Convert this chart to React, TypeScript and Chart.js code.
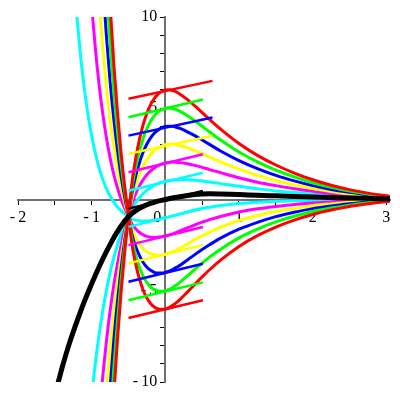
import React, { useEffect, useRef } from "react";
import { Chart, registerables } from "chart.js";

Chart.register(...registerables);

// shared x grid for all solution curves
const X = [
  -1.5, -1.45, -1.4, -1.35, -1.3, -1.25, -1.2, -1.15, -1.1, -1.05, -1.0, -0.95, -0.9, -0.85, -0.8, -0.75,
  -0.7, -0.65, -0.6, -0.55, -0.5, -0.45, -0.4, -0.35, -0.3, -0.25, -0.2, -0.15, -0.1, -0.05, 0,
  0.05, 0.1, 0.15, 0.2, 0.3, 0.4, 0.5, 0.6, 0.75, 1.0, 1.25, 1.5, 1.75, 2.0, 2.25, 2.5, 2.75, 3.05,
];

// thick black solution y(0)=0
const BLACK_Y = [
  -10.75, -9.95, -9.2, -8.5, -7.85, -7.25, -6.68, -6.13, -5.6, -5.1, -4.62, -4.15, -3.7, -3.27, -2.86, -2.47,
  -2.1, -1.76, -1.45, -1.17, -0.93, -0.76, -0.61, -0.48, -0.38, -0.29, -0.21, -0.15, -0.09, -0.045, 0,
  0.045, 0.085, 0.12, 0.15, 0.22, 0.27, 0.3, 0.31, 0.3, 0.27, 0.23, 0.2, 0.17, 0.14, 0.11, 0.08, 0.06, 0.04,
];

// positive initial values (start x, values)
const POS1_FROM = -1.05;
const POS1 = [-12.9, -10.78, -8.97, -7.42, -6.11, -4.98, -4.01, -3.18, -2.49, -1.88, -1.36, -0.91, -0.47, -0.15, 0.11, 0.33, 0.51, 0.66, 0.77, 0.87, 0.94, 1.0, 1.04, 1.07, 1.08, 1.09, 1.08, 1.05, 1.01, 0.96, 0.87, 0.72, 0.59, 0.47, 0.38, 0.29, 0.21, 0.16, 0.11, 0.06];
const POS2_FROM = -0.95;
const POS2 = [-14.72, -12.0, -9.72, -7.77, -6.11, -4.7, -3.53, -2.51, -1.65, -0.91, -0.18, 0.34, 0.76, 1.09, 1.36, 1.57, 1.73, 1.85, 1.94, 2.0, 2.03, 2.05, 2.04, 2.02, 1.96, 1.87, 1.76, 1.64, 1.47, 1.19, 0.95, 0.76, 0.59, 0.45, 0.33, 0.23, 0.16, 0.08];
const POS3_FROM = -0.9;
const POS3 = [-16.58, -13.33, -10.56, -8.21, -6.22, -4.57, -3.14, -1.94, -0.91, 0.12, 0.83, 1.4, 1.85, 2.2, 2.47, 2.68, 2.83, 2.93, 3.0, 3.03, 3.03, 3.0, 2.96, 2.84, 2.68, 2.51, 2.33, 2.06, 1.66, 1.32, 1.04, 0.81, 0.6, 0.44, 0.31, 0.2, 0.11];
const POS4_FROM = -0.85;
const POS4 = [-16.94, -13.35, -10.31, -7.74, -5.61, -3.77, -2.23, -0.91, 0.42, 1.32, 2.04, 2.6, 3.04, 3.38, 3.63, 3.81, 3.93, 4.0, 4.02, 4.01, 3.96, 3.9, 3.71, 3.5, 3.26, 3.02, 2.66, 2.13, 1.69, 1.32, 1.02, 0.76, 0.55, 0.39, 0.25, 0.13];
const POS5_FROM = -0.8;
const POS5 = [-16.14, -12.41, -9.26, -6.65, -4.4, -2.52, -0.91, 0.72, 1.81, 2.68, 3.36, 3.89, 4.29, 4.58, 4.79, 4.92, 5.0, 5.02, 4.99, 4.93, 4.83, 4.59, 4.31, 4.01, 3.7, 3.26, 2.6, 2.06, 1.61, 1.24, 0.92, 0.67, 0.47, 0.3, 0.15];
const POS6_FROM = -0.75;
const POS6 = [-14.51, -10.78, -7.69, -5.03, -2.81, -0.91, 1.01, 2.3, 3.32, 4.12, 4.73, 5.2, 5.53, 5.77, 5.92, 6.0, 6.01, 5.97, 5.89, 5.77, 5.47, 5.13, 4.76, 4.39, 3.86, 3.07, 2.42, 1.89, 1.45, 1.08, 0.78, 0.54, 0.35, 0.17];

// negative initial values
const NEG1_FROM = -1.25;
const NEG1 = [12.55, 9.99, 7.85, 6.09, 4.66, 3.48, 2.53, 1.74, 1.11, 0.6, 0.19, -0.14, -0.41, -0.62, -0.78, -0.91, -1.07, -1.13, -1.17, -1.18, -1.18, -1.16, -1.13, -1.09, -1.05, -1.0, -0.95, -0.9, -0.84, -0.79, -0.68, -0.57, -0.49, -0.42, -0.33, -0.22, -0.15, -0.1, -0.07, -0.05, -0.03, -0.02, -0.01, 0.0];
const NEG2_FROM = -1.05;
const NEG2 = [13.44, 10.61, 8.28, 6.32, 4.72, 3.39, 2.29, 1.38, 0.64, 0.01, -0.49, -0.91, -1.36, -1.62, -1.81, -1.94, -2.02, -2.07, -2.08, -2.07, -2.04, -2.0, -1.94, -1.88, -1.8, -1.72, -1.56, -1.39, -1.24, -1.1, -0.93, -0.69, -0.51, -0.38, -0.27, -0.19, -0.13, -0.07, -0.04, 0.0];
const NEG3_FROM = -1.0;
const NEG3 = [17.74, 14.03, 10.9, 8.33, 6.18, 4.39, 2.9, 1.68, 0.64, -0.2, -0.91, -1.66, -2.11, -2.45, -2.7, -2.87, -2.97, -3.03, -3.05, -3.04, -3.0, -2.94, -2.86, -2.76, -2.66, -2.44, -2.2, -1.99, -1.79, -1.52, -1.16, -0.88, -0.66, -0.49, -0.34, -0.24, -0.15, -0.08, -0.03];
const NEG4_FROM = -0.9;
const NEG4 = [15.48, 11.94, 8.97, 6.49, 4.42, 2.72, 1.27, 0.09, -0.91, -1.96, -2.6, -3.09, -3.45, -3.71, -3.88, -3.99, -4.03, -4.03, -4.0, -3.93, -3.84, -3.72, -3.6, -3.31, -3.02, -2.74, -2.48, -2.12, -1.63, -1.25, -0.94, -0.7, -0.5, -0.35, -0.23, -0.13, -0.05];
const NEG5_FROM = -0.85;
const NEG5 = [15.55, 11.76, 8.59, 5.94, 3.76, 1.9, 0.38, -0.91, -2.26, -3.09, -3.73, -4.21, -4.55, -4.79, -4.94, -5.01, -5.03, -5.0, -4.93, -4.82, -4.69, -4.53, -4.19, -3.83, -3.49, -3.16, -2.72, -2.1, -1.62, -1.23, -0.92, -0.66, -0.47, -0.31, -0.18, -0.07];
const NEG6_FROM = -0.8;
const NEG6 = [14.55, 10.69, 7.46, 4.8, 2.53, 0.67, -0.91, -2.55, -3.58, -4.37, -4.97, -5.4, -5.7, -5.89, -5.99, -6.02, -6.0, -5.92, -5.8, -5.65, -5.47, -5.07, -4.65, -4.24, -3.85, -3.32, -2.57, -1.98, -1.51, -1.13, -0.82, -0.58, -0.38, -0.23, -0.09];

// initial-slope segments
const SEG_X0 = [-0.5, -0.5, -0.5, -0.5, -0.5, -0.5, -0.5, -0.5, -0.5, -0.5, -0.5, -0.5, -0.5];
const SEG_Y0 = [5.52, 4.51, 3.5, 2.5, 1.49, 0.48, -0.5, -1.5, -2.5, -3.5, -4.51, -5.52, -6.49];
const SEG_X1 = [0.64, 0.51, 0.64, 0.64, 0.51, 0.51, 0.51, 0.51, 0.51, 0.51, 0.51, 0.51, 0.51];
const SEG_Y1 = [6.5, 5.48, 4.49, 3.49, 2.48, 1.47, 0.47, -0.5, -1.51, -2.5, -3.52, -4.54, -5.52];
const SEG_COLORS = ["#ff0000", "#00ff00", "#0000ff", "#ffff00", "#ff00ff", "#00ffff", "#000000", "#00ffff", "#ff00ff", "#ffff00", "#0000ff", "#00ff00", "#ff0000"];

const X_TICK_LABELS: Record<string, string> = { "-2": "-\u20092", "-1": "-\u20091", "0": "0\u2002\u2002", "1": "1", "2": "2", "3": "3" };
const Y_TICK_LABELS: Record<string, string> = { "10": "10\u2002", "5": "5\u2002", "-5": "-\u20095\u2002", "-10": "-\u200910\u2002" };

export default function App() {
  const ref = useRef<HTMLCanvasElement>(null);

  useEffect(() => {
    const pts = (from: number, ys: number[]) => {
      const s = X.indexOf(from);
      return ys.map((y, j) => ({ x: X[s + j], y }));
    };
    const curve = (data: any[], color: string, order: number, width = 3) => ({
      data,
      borderColor: color,
      backgroundColor: color,
      borderWidth: width,
      pointRadius: 0,
      fill: false,
      cubicInterpolationMode: "monotone" as const,
      clip: 0,
      order,
    });

    const datasets: any[] = [];
    const posSets: [number, number[], string][] = [
      [POS6_FROM, POS6, "#ff0000"],
      [POS5_FROM, POS5, "#00ff00"],
      [POS4_FROM, POS4, "#0000ff"],
      [POS3_FROM, POS3, "#ffff00"],
      [POS2_FROM, POS2, "#ff00ff"],
      [POS1_FROM, POS1, "#00ffff"],
    ];
    const negSets: [number, number[], string][] = [
      [NEG6_FROM, NEG6, "#ff0000"],
      [NEG5_FROM, NEG5, "#00ff00"],
      [NEG4_FROM, NEG4, "#0000ff"],
      [NEG3_FROM, NEG3, "#ffff00"],
      [NEG2_FROM, NEG2, "#ff00ff"],
      [NEG1_FROM, NEG1, "#00ffff"],
    ];
    posSets.forEach(([f, ys, c], i) => datasets.push(curve(pts(f, ys), c, 3 + i)));
    negSets.forEach(([f, ys, c], i) => datasets.push(curve(pts(f, ys), c, 3 + i)));
    SEG_X0.forEach((x0, i) => {
      datasets.push({
        data: [
          { x: x0, y: SEG_Y0[i] },
          { x: SEG_X1[i], y: SEG_Y1[i] },
        ],
        borderColor: SEG_COLORS[i],
        borderWidth: 2.5,
        pointRadius: 0,
        fill: false,
        clip: 0,
        order: SEG_COLORS[i] === "#000000" ? 1 : 2,
      });
    });
    datasets.push(curve(X.map((x, i) => ({ x, y: BLACK_Y[i] })), "#000000", 0, 5));

    Chart.defaults.font.family = '"Liberation Serif", "Times New Roman", serif';
    Chart.defaults.font.size = 16;
    Chart.defaults.color = "#000";

    const chart = new Chart(ref.current!, {
      type: "line",
      data: { datasets },
      options: {
        animation: false,
        responsive: false,
        layout: { padding: { left: 18, right: 10, top: 17, bottom: 18 } },
        plugins: { legend: { display: false }, tooltip: { enabled: false } },
        scales: {
          x: {
            type: "linear",
            min: -2,
            max: 3.05,
            position: { y: 0 } as any,
            ticks: {
              stepSize: 0.5,
              includeBounds: false,
              autoSkip: false,
              maxRotation: 0,
              padding: 5,
              callback: (v: any) => X_TICK_LABELS[String(v)] ?? "",
            },
            grid: { drawOnChartArea: false, tickLength: 4, color: "#000", lineWidth: 1 },
            border: { color: "#707070", width: 2 },
          },
          y: {
            type: "linear",
            min: -10,
            max: 10,
            position: { x: 0 } as any,
            ticks: {
              stepSize: 1,
              includeBounds: false,
              autoSkip: false,
              callback: (v: any) => Y_TICK_LABELS[String(v)] ?? "",
            },
            grid: { drawOnChartArea: false, tickLength: 4, color: "#000", lineWidth: 1 },
            border: { color: "#707070", width: 2 },
          },
        },
      },
    });
    return () => chart.destroy();
  }, []);

  return (
    <div style={{ position: "fixed", left: 0, top: 0, width: 400, height: 400, background: "#fff" }}>
      <canvas ref={ref} width={400} height={400} style={{ width: 400, height: 400 }} />
    </div>
  );
}
